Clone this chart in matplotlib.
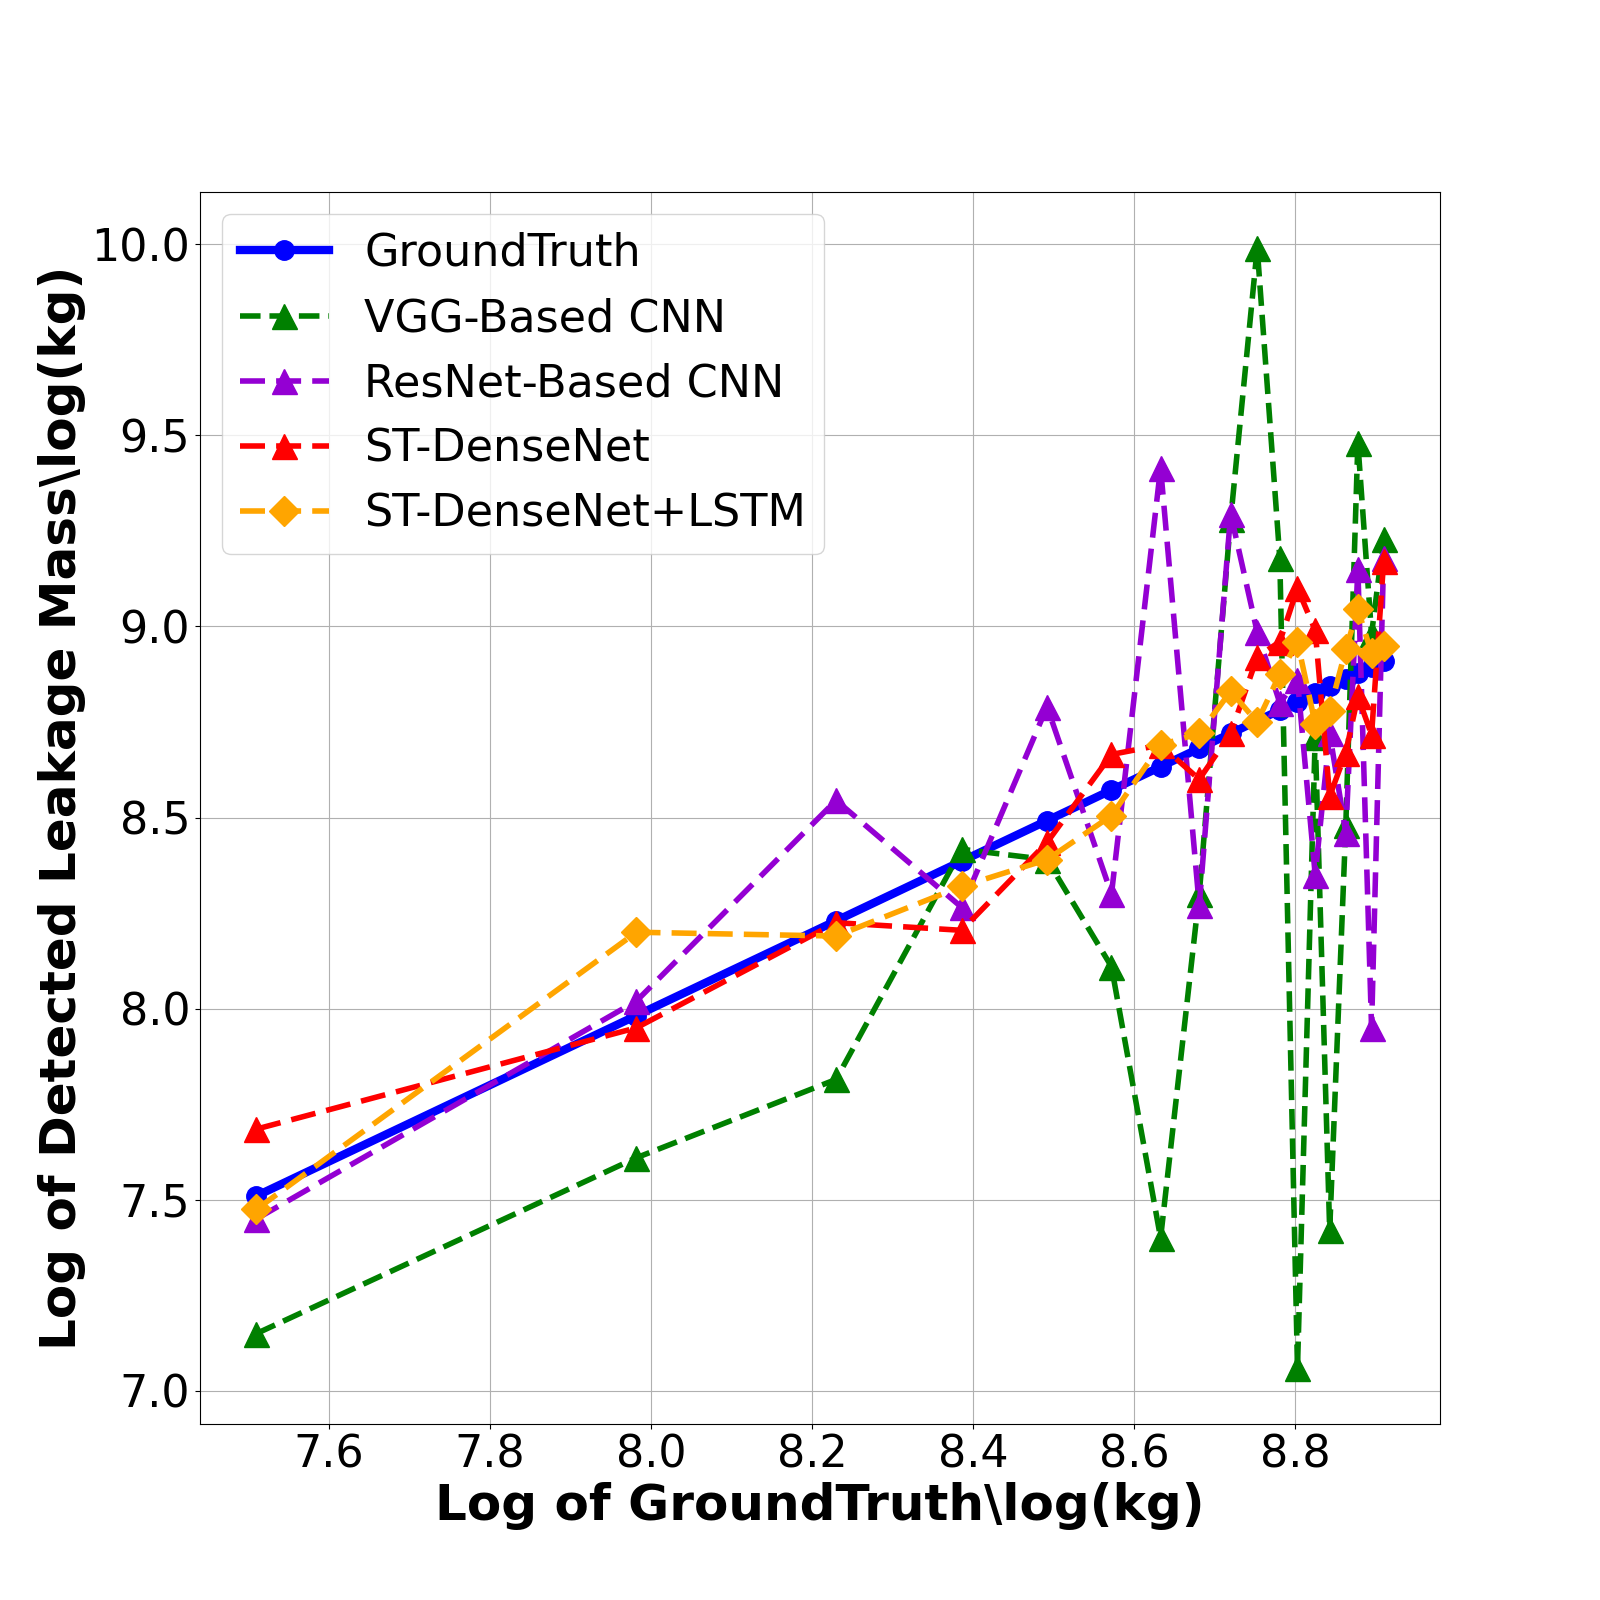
import numpy as np
import matplotlib
matplotlib.use('Agg')
import matplotlib.pyplot as plt

# valores
x_gt = [7.51, 7.982, 8.230, 8.386, 8.492, 8.572, 8.633, 8.681, 8.720,
        8.753, 8.781, 8.803, 8.825, 8.843, 8.863, 8.878, 8.895, 8.910]
ground_truth = list(x_gt)
vgg_cnn = [7.15, 7.61, 7.815, 8.417, 8.39, 8.11, 7.40, 8.30, 9.28,
           9.99, 9.18, 7.06, 8.71, 7.42, 8.48, 9.48, 8.98, 9.23]
resnet_cnn = [7.45, 8.02, 8.545, 8.265, 8.79, 8.30, 9.415, 8.27, 9.295,
              8.985, 8.80, 8.86, 8.35, 8.72, 8.46, 9.15, 7.95, 9.18]
st_densenet = [7.685, 7.95, 8.225, 8.205, 8.435, 8.665, 8.69, 8.60, 8.72,
               8.92, 8.96, 9.10, 8.99, 8.556, 8.67, 8.817, 8.717, 9.17]
st_densenet_lstm = [7.475, 8.20, 8.19, 8.32, 8.39, 8.505, 8.69, 8.72, 8.83,
                    8.75, 8.875, 8.96, 8.745, 8.78, 8.94, 9.045, 8.93, 8.95]

plt.figure(figsize=(16, 16), dpi=100)
plt.plot(x_gt, ground_truth, label='GroundTruth', color='blue', marker='o',
         linestyle='-', linewidth=6, markersize=14)
plt.plot(x_gt, vgg_cnn, label='VGG-Based CNN', color='green', marker='^',
         linestyle='--', linewidth=4, markersize=18)
plt.plot(x_gt, resnet_cnn, label='ResNet-Based CNN', color='darkviolet', marker='^',
         linestyle='--', linewidth=4, markersize=18, dashes=(4.5, 2))
plt.plot(x_gt, st_densenet, label='ST-DenseNet', color='red', marker='^',
         linestyle='--', linewidth=4, markersize=18, dashes=(4.5, 2))
plt.plot(x_gt, st_densenet_lstm, label='ST-DenseNet+LSTM', color='orange', marker='D',
         linestyle='--', linewidth=4, markersize=15, dashes=(4.5, 2))

plt.xlabel('Log of GroundTruth\\log(kg)', fontsize=36, fontweight='bold')
plt.ylabel('Log of Detected Leakage Mass\\log(kg)', fontsize=36, fontweight='bold')
plt.xticks(fontsize=32)
plt.yticks(fontsize=32)
plt.legend(loc='upper left', fontsize=32)
plt.grid(True)
plt.savefig('out.png', dpi=100)
